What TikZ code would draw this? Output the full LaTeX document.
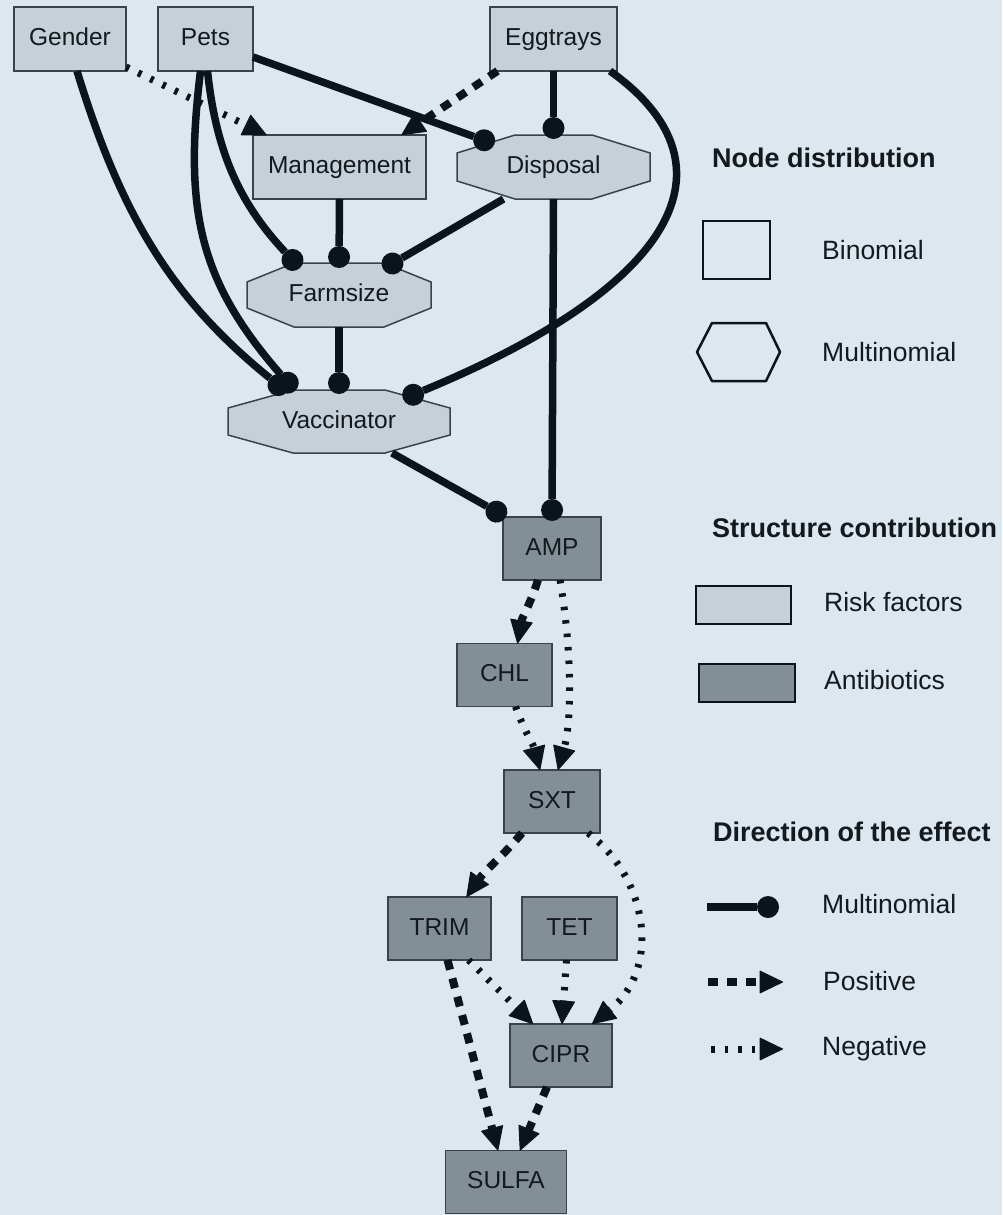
\documentclass[tikz,border=0pt]{standalone}
\usepackage{fontspec}
\setmainfont{Liberation Sans}
\usetikzlibrary{arrows.meta}
\definecolor{bgc}{HTML}{DCE7EF}
\definecolor{riskc}{HTML}{C5D0D8}
\definecolor{abc}{HTML}{838F97}
\definecolor{edgec}{HTML}{3A4349}
\definecolor{linec}{HTML}{0B141A}
\definecolor{txtc}{HTML}{14191D}
\pgfdeclarelayer{bg}
\pgfsetlayers{bg,main}
\tikzset{
  base/.style={draw=edgec, line width=1.5pt, inner sep=0pt, outer sep=0pt, text=txtc,
    font=\fontsize{24.5}{28}\selectfont, text height=17.5pt, text depth=4pt},
  risk/.style={base, fill=riskc},
  anti/.style={base, fill=abc},
  octnode/.style={inner sep=0pt, outer sep=0pt, text=txtc, font=\fontsize{24.5}{28}\selectfont,
    text height=17.5pt, text depth=4pt},
  octo/.style={draw=edgec, line width=1.5pt, fill=riskc},
  multiedge/.style={line width=7.5pt, draw=linec, -{Circle[length=22pt,width=22pt,line width=0pt]}},
  posedge/.style={line width=8pt, draw=linec, dash pattern=on 10pt off 9pt,
    -{Triangle[length=24pt,width=23pt,line width=1pt,round]}},
  negedge/.style={line width=7pt, draw=linec, dash pattern=on 3.5pt off 10pt,
    -{Triangle[length=24pt,width=23pt,line width=1pt,round]}},
  ttl/.style={anchor=west, inner sep=0pt, text=txtc, font=\fontsize{27}{31}\selectfont\bfseries},
  lab/.style={anchor=west, inner sep=0pt, text=txtc, font=\fontsize{26.5}{30}\selectfont},
  legshape/.style={draw=linec, line width=2.5pt},
}
\newcommand\octshape[3]{%
  \draw[octo] ([xshift=#2]#1.north west) -- ([xshift=-#2]#1.north east)
   -- ([yshift=-#3]#1.north east) -- ([yshift=#3]#1.south east)
   -- ([xshift=-#2]#1.south east) -- ([xshift=#2]#1.south west)
   -- ([yshift=#3]#1.south west) -- ([yshift=-#3]#1.north west) -- cycle;}
\begin{document}
\begin{tikzpicture}[x=1pt,y=1pt]
\begin{pgfonlayer}{bg}
\fill[bgc] (0,0) rectangle (1002,-1215);
\end{pgfonlayer}
\useasboundingbox (0,0) rectangle (1002,-1215);

% risk factor nodes
\node[risk, minimum width=112pt, minimum height=64pt] (gender) at (70,-39) {Gender};
\node[risk, minimum width=95pt, minimum height=64pt] (pets) at (205.5,-39) {Pets};
\node[risk, minimum width=127pt, minimum height=64pt] (egg) at (553.5,-39) {Eggtrays};
\node[risk, minimum width=173pt, minimum height=64pt] (man) at (339.5,-167) {Management};
\node[octnode, minimum width=193pt, minimum height=64pt] (disp) at (553.5,-167) {Disposal};
\node[octnode, minimum width=184pt, minimum height=64pt] (farm) at (339,-295) {Farmsize};
\node[octnode, minimum width=222pt, minimum height=63pt] (vac) at (339,-421.5) {Vaccinator};

% antibiotic nodes
\node[anti, minimum width=98pt, minimum height=63pt] (amp) at (552,-548.5) {AMP};
\node[anti, minimum width=95pt, minimum height=63pt] (chl) at (504.5,-675) {CHL};
\node[anti, minimum width=96pt, minimum height=63pt] (sxt) at (552,-801.5) {SXT};
\node[anti, minimum width=103pt, minimum height=63pt] (trim) at (439.5,-928.5) {TRIM};
\node[anti, minimum width=95pt, minimum height=63pt] (tet) at (569.5,-928.5) {TET};
\node[anti, minimum width=102pt, minimum height=63pt] (cipr) at (561,-1055.5) {CIPR};
\node[anti, minimum width=121pt, minimum height=63pt] (sulfa) at (506,-1182) {SULFA};

\begin{pgfonlayer}{bg}
\octshape{disp}{58pt}{18pt}
\octshape{farm}{47pt}{19pt}
\octshape{vac}{65pt}{18pt}
\end{pgfonlayer}

% multinomial edges
\draw[multiedge] ([yshift=-18pt]pets.east) -- ([xshift=-59pt,yshift=-9pt]disp.north);
\draw[multiedge] (egg.south) -- ([yshift=-4pt]disp.north);
\draw[multiedge] ([xshift=2pt]pets.south) to[out=-84,in=133] ([xshift=-39pt,yshift=-5pt]farm.north);
\draw[multiedge] (man.south) -- ([yshift=-5pt]farm.north);
\draw[multiedge] ([xshift=-50pt]disp.south) -- ([xshift=44pt,yshift=-6pt]farm.north);
\draw[multiedge] ([xshift=7pt]gender.south) to[out=-73,in=141] ([xshift=-52pt,yshift=-2pt]vac.north);
\draw[multiedge] ([xshift=-5pt]pets.south) to[out=-97,in=131,looseness=1.1] ([xshift=-44pt,yshift=-1pt]vac.north);
\draw[multiedge] (farm.south) -- ([yshift=-4pt]vac.north);
\draw[multiedge] ([xshift=-7pt]egg.south east) .. controls (735,-160) and (690,-280) .. ([xshift=64pt,yshift=-9pt]vac.north);
\draw[multiedge] ([xshift=53pt]vac.south) -- ([xshift=-46pt]amp.north);
\draw[multiedge] (disp.south) -- ([yshift=-4pt]amp.north);

% positive / negative edges
\draw[negedge] ([yshift=4pt]gender.south east) -- ([xshift=-73pt]man.north);
\draw[posedge] ([xshift=-56pt]egg.south) -- ([xshift=62pt]man.north);
\draw[posedge] ([xshift=-14pt]amp.south) to[out=-108,in=80] ([xshift=13pt]chl.north);
\draw[negedge] ([xshift=8pt]amp.south) .. controls (572,-650) and (572,-720) .. ([xshift=6pt]sxt.north);
\draw[negedge] ([xshift=11pt]chl.south) to[out=-70,in=105] ([xshift=-12pt]sxt.north);
\draw[posedge] ([xshift=-30pt]sxt.south) to[out=-130,in=55] ([xshift=27pt]trim.north);
\draw[negedge] ([xshift=36pt]sxt.south) .. controls (650,-880) and (660,-970) .. ([xshift=31pt]cipr.north);
\draw[negedge] ([xshift=29pt]trim.south) -- ([xshift=-28pt]cipr.north);
\draw[negedge] ([xshift=-3pt]tet.south) -- ([xshift=1pt]cipr.north);
\draw[posedge] ([xshift=8pt]trim.south) -- ([xshift=-8pt]sulfa.north);
\draw[posedge] ([xshift=-14pt]cipr.south) -- ([xshift=14pt]sulfa.north);

% legend
\node[ttl] (t1) at (712,-158) {Node distribution};
\draw[legshape] (703,-221) rectangle (770,-279);
\node[lab] (l1) at (822,-250) {Binomial};
\draw[legshape, line join=round] (712,-323) -- (766,-323) -- (780,-352) -- (766,-381) -- (712,-381) -- (697,-352) -- cycle;
\node[lab] (l2) at (822,-352) {Multinomial};

\node[ttl] (t2) at (712,-528) {Structure contribution};
\draw[legshape, fill=riskc] (696,-586) rectangle (791,-624);
\node[lab] (l3) at (824,-602) {Risk factors};
\draw[legshape, fill=abc] (699,-664) rectangle (795,-702);
\node[lab] (l4) at (824,-680) {Antibiotics};

\node[ttl] (t3) at (713,-832) {Direction of the effect};
\coordinate (m1) at (707,-907);
\coordinate (m2) at (779,-907);
\draw[multiedge] (m1) -- (m2);
\node[lab] (l5) at (822,-904) {Multinomial};
\coordinate (p1) at (708,-982);
\coordinate (p2) at (783,-982);
\draw[posedge] (p1) -- (p2);
\node[lab] (l6) at (823,-981) {Positive};
\coordinate (n1) at (711,-1049);
\coordinate (n2) at (783,-1049);
\draw[negedge] (n1) -- (n2);
\node[lab] (l7) at (822,-1049) {Negative};
\end{tikzpicture}
\end{document}
